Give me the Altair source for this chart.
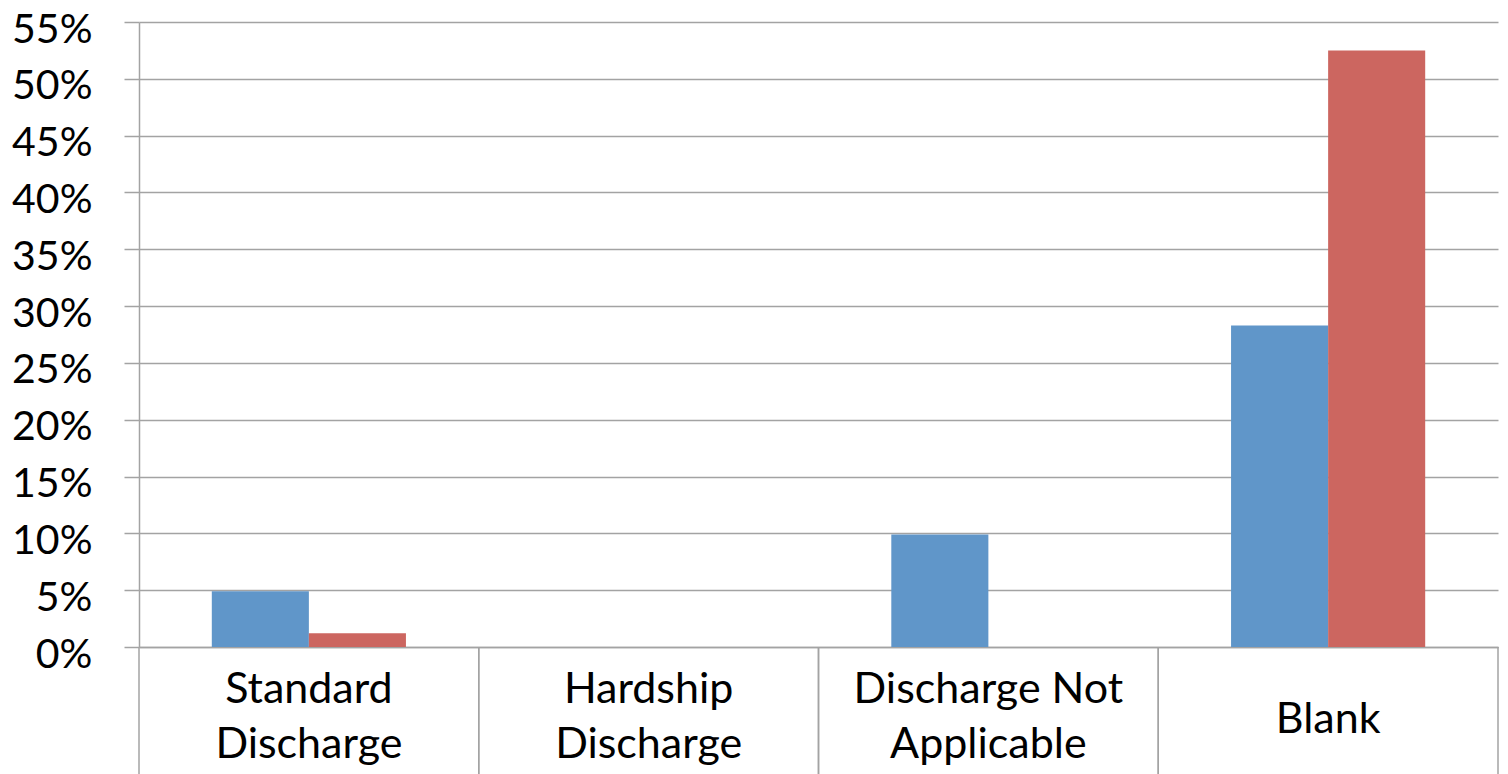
import altair as alt
import pandas as pd

# Share of records per discharge type, for two groups
categories = ["Standard Discharge", "Hardship Discharge", "Discharge Not Applicable", "Blank"]
series_names = ["Group A", "Group B"]
group_a = [0.049, 0.0, 0.099, 0.283]
group_b = [0.012, 0.0, 0.0, 0.525]
y_ticks = [0, 0.05, 0.10, 0.15, 0.20, 0.25, 0.30, 0.35, 0.40, 0.45, 0.50, 0.55]

rows = []
for cat, a, b in zip(categories, group_a, group_b):
    rows.append({"category": cat, "series": series_names[0], "share": a})
    rows.append({"category": cat, "series": series_names[1], "share": b})
df = pd.DataFrame(rows)
cat_df = pd.DataFrame({"category": categories})

W, H = 1359, 625
GRID = "#A3A3A3"
FONT = "Lato"

# wrap multi-word category names before their last word
label_expr = (
    "indexof(datum.value, ' ') < 0 ? datum.value : "
    "[slice(datum.value, 0, lastindexof(datum.value, ' ')), "
    "slice(datum.value, lastindexof(datum.value, ' ') + 1)]"
)
single_line = "indexof(datum.value, ' ') < 0"

x_scale = alt.Scale(domain=categories, paddingInner=0, paddingOuter=0)

bars = (
    alt.Chart(df)
    .mark_bar()
    .encode(
        x=alt.X(
            "category:N",
            sort=categories,
            scale=x_scale,
            axis=alt.Axis(
                title=None,
                labelAngle=0,
                labelExpr=label_expr,
                labelFont=FONT,
                labelFontSize=43,
                labelColor="#000000",
                labelBaseline="alphabetic",
                labelLineHeight=55,
                labelPadding={"condition": {"test": single_line, "value": -42}, "value": -72},
                labelLimit=400,
                ticks=True,
                tickSize=127,
                tickOpacity=0,
                domain=True,
                domainColor=GRID,
                domainWidth=1.5,
                grid=False,
            ),
        ),
        xOffset=alt.XOffset(
            "series:N",
            sort=series_names,
            scale=alt.Scale(paddingInner=0, paddingOuter=0.75),
        ),
        y=alt.Y(
            "share:Q",
            scale=alt.Scale(domain=[0, 0.55], nice=False),
            axis=alt.Axis(
                title=None,
                values=y_ticks,
                format=".0%",
                labelFont=FONT,
                labelFontSize=41,
                labelColor="#000000",
                labelBaseline="alphabetic",
                labelOffset=20,
                labelPadding=32,
                tickSize=15,
                tickColor=GRID,
                tickWidth=1.5,
                domain=True,
                domainColor=GRID,
                domainWidth=1.5,
                grid=True,
                gridColor=GRID,
                gridWidth=1.5,
            ),
        ),
        color=alt.Color(
            "series:N",
            sort=series_names,
            scale=alt.Scale(domain=series_names, range=["#6096C9", "#CC6660"]),
            legend=None,
        ),
    )
)

# category separators below the axis, at both edges of every band
def separators(edge):
    return (
        alt.Chart(cat_df)
        .mark_rule(color=GRID, strokeWidth=1.5)
        .encode(
            x=alt.X("category:N", sort=categories, scale=x_scale, bandPosition=edge),
            y=alt.value(H),
            y2=alt.value(H + 130),
        )
    )

chart = (
    alt.layer(bars, separators(0), separators(1))
    .properties(
        width=W,
        height=H,
        autosize=alt.AutoSizeParams(type="none"),
        padding={"left": 139, "top": 22, "right": 10, "bottom": 127},
        background="white",
    )
    .configure_view(stroke="transparent")
)

chart.save("out.html", embed_options={"renderer": "svg", "actions": False})
